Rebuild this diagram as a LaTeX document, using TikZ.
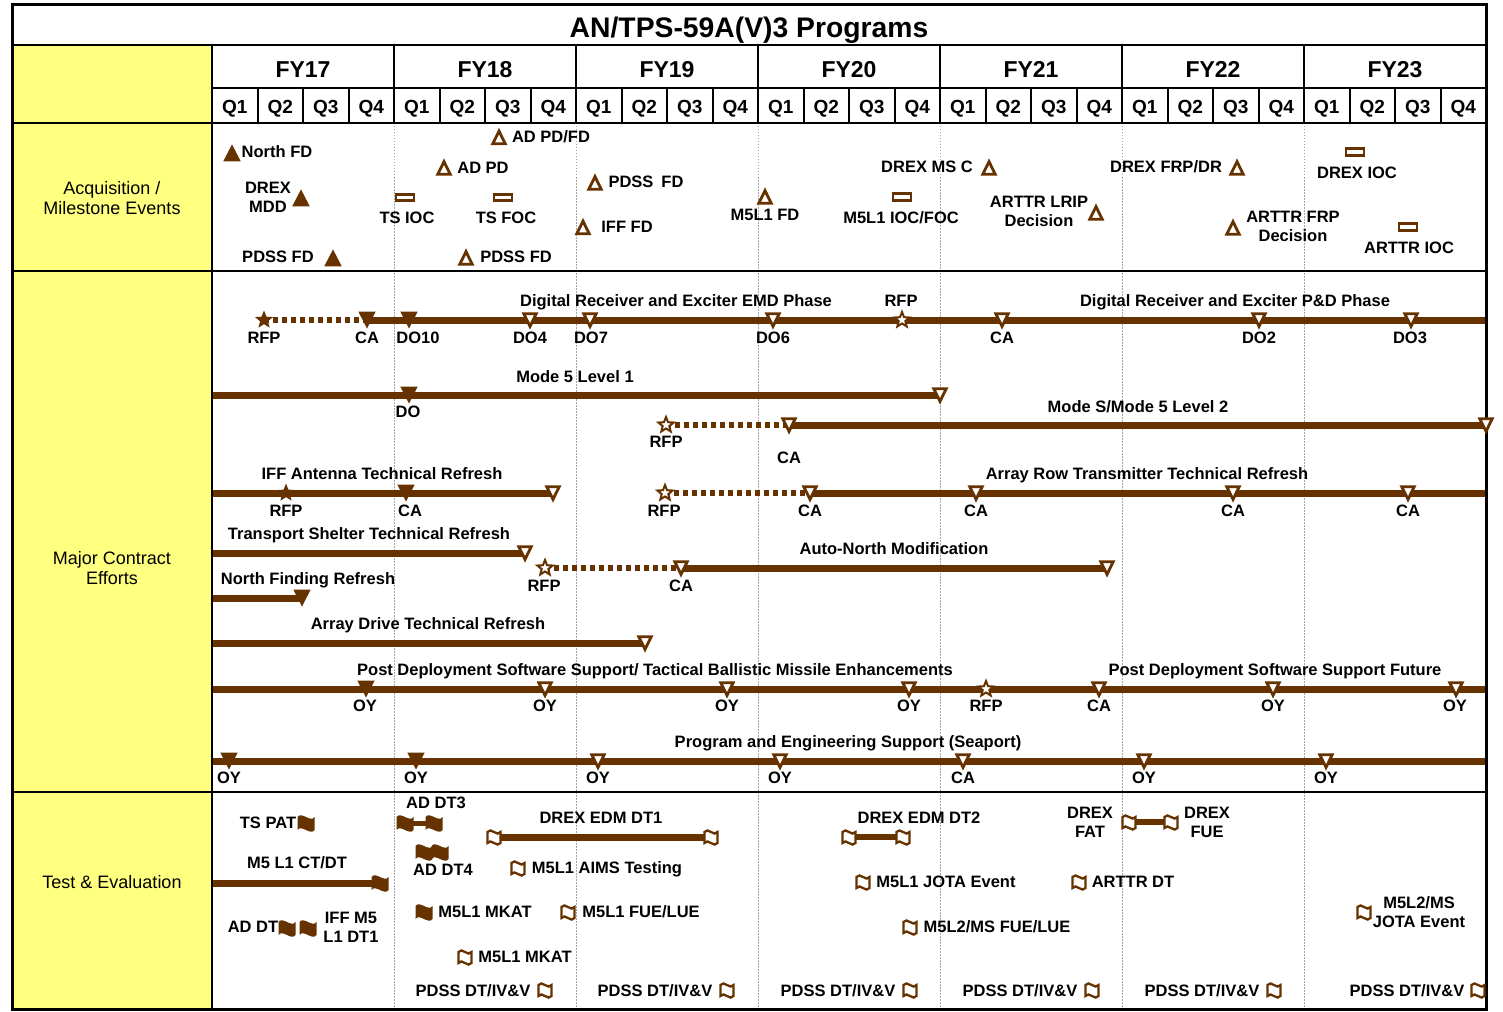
\documentclass[tikz,border=0pt]{standalone}
\usepackage{fontspec}
\setmainfont{Liberation Sans}
\usetikzlibrary{shapes.geometric}
\definecolor{brn}{RGB}{102,51,0}
\definecolor{ylw}{RGB}{255,255,128}
\tikzset{
  lbl/.style={font=\bfseries\fontsize{16.5}{19}\selectfont, inner sep=0pt, text height=11.8pt, text depth=0pt},
  mlbl/.style={font=\bfseries\fontsize{16.5}{19}\selectfont, inner sep=0pt, align=center},
  side/.style={font=\fontsize{18}{20}\selectfont, inner sep=0pt, align=center},
  side1/.style={font=\fontsize{18}{20}\selectfont, inner sep=0pt, text height=12.9pt, text depth=0pt},
  fyl/.style={font=\bfseries\fontsize{23}{25}\selectfont, inner sep=0pt, text height=16.5pt, text depth=0pt},
  ql/.style={font=\bfseries\fontsize{19}{21}\selectfont, inner sep=0pt, text height=13.6pt, text depth=0pt},
  ttl/.style={font=\bfseries\fontsize{28.3}{30}\selectfont, inner sep=0pt, text height=20.2pt, text depth=0pt},
  gridl/.style={draw=gray!70, line width=0.8pt, dash pattern=on 1.5pt off 1.5pt},
  bar/.style={draw=brn, line width=7pt},
  dotbar/.style={draw=brn, line width=6.5pt, dash pattern=on 5pt off 4pt},
  tebar/.style={draw=brn, line width=6pt},
  fstar/.style={star, star points=5, star point ratio=2.3, fill=brn, minimum size=19pt, inner sep=0pt},
  ostar/.style={star, star points=5, star point ratio=2.3, draw=brn, fill=white, line width=2pt, minimum size=16pt, inner sep=0pt},
  ftri/.pic={\fill[brn] (-8.8,8.4) -- (8.8,8.4) -- (0,-8.6) -- cycle;},
  otri/.pic={\draw[brn, line width=2.8pt, fill=white, line join=miter] (-6.2,6.2) -- (6.2,6.2) -- (0,-6.4) -- cycle;},
  fdown/.pic={\fill[brn] (-8.6,-8.3) -- (8.6,-8.3) -- (0,8.5) -- cycle;},
  odown/.pic={\draw[brn, line width=2.8pt, fill=white, line join=miter] (-6.2,-6.2) -- (6.2,-6.2) -- (0,6.4) -- cycle;},
  orect/.pic={\draw[brn, line width=2.8pt, fill=white] (-9,-3.3) rectangle (9,3.3);},
  fflag/.pic={\fill[brn] (-8.5,-6) .. controls (-4.5,-12) and (4.5,0) .. (8.5,-6) -- (8.5,7) .. controls (4.5,13) and (-4.5,1) .. (-8.5,7) -- cycle;},
  oflag/.pic={\draw[brn, line width=2.3pt, fill=white] (-6.5,-5) .. controls (-3.5,-10.5) and (3.5,0.5) .. (6.5,-5) -- (6.5,6) .. controls (3.5,11.5) and (-3.5,0.5) .. (-6.5,6) -- cycle;}
}
\begin{document}
\begin{tikzpicture}[x=1pt,y=-1pt]
\useasboundingbox (0,0) rectangle (1503,1011);
\fill[white] (0,0) rectangle (1503,1011);
\fill[ylw] (12,45) rectangle (212,1009);
% dotted year lines
\foreach \k in {1,...,6} \draw[gridl] ({212+182*\k},123) -- ({212+182*\k},1009);

% ---------------- bar coordinates ----------------
\coordinate (r1s) at (264,320); \coordinate (r1ca) at (367,320); \coordinate (r1e) at (1486,320);
\coordinate (r2s) at (212,395); \coordinate (r2e) at (940,395);
\coordinate (r3s) at (666,425); \coordinate (r3ca) at (789,425); \coordinate (r3e) at (1486,425);
\coordinate (r4s) at (212,493); \coordinate (r4e) at (553,493);
\coordinate (r4bs) at (665,493); \coordinate (r4bca) at (810,493); \coordinate (r4be) at (1486,493);
\coordinate (r5s) at (212,553); \coordinate (r5e) at (525,553);
\coordinate (r6s) at (545,568); \coordinate (r6ca) at (681,568); \coordinate (r6e) at (1107,568);
\coordinate (r7s) at (212,598); \coordinate (r7e) at (302,598);
\coordinate (r8s) at (212,643); \coordinate (r8e) at (645,643);
\coordinate (r9s) at (212,689); \coordinate (r9e) at (1486,689);
\coordinate (r10s) at (212,761); \coordinate (r10e) at (1486,761);
\coordinate (t1a) at (405,823); \coordinate (t1b) at (434,823);
\coordinate (t2a) at (494,837); \coordinate (t2b) at (711,837);
\coordinate (t3a) at (212,883); \coordinate (t3b) at (380,883);
\coordinate (t4a) at (849,837); \coordinate (t4b) at (903,837);
\coordinate (t5a) at (1129,822); \coordinate (t5b) at (1171,822);

\draw[dotbar] (r1s) -- (r1ca); \draw[bar] (r1ca) -- (r1e);
\draw[bar] (r2s) -- (r2e);
\draw[dotbar] (r3s) -- (r3ca); \draw[bar] (r3ca) -- (r3e);
\draw[bar] (r4s) -- (r4e);
\draw[dotbar] (r4bs) -- (r4bca); \draw[bar] (r4bca) -- (r4be);
\draw[bar] (r5s) -- (r5e);
\draw[dotbar] (r6s) -- (r6ca); \draw[bar] (r6ca) -- (r6e);
\draw[bar] (r7s) -- (r7e);
\draw[bar] (r8s) -- (r8e);
\draw[bar] (r9s) -- (r9e);
\draw[bar] (r10s) -- (r10e);
\draw[draw=brn, line width=5pt] (t1a) -- (t1b);
\draw[bar] (t2a) -- (t2b);
\draw[bar] (t3a) -- (t3b);
\draw[tebar] (t4a) -- (t4b);
\draw[tebar] (t5a) -- (t5b);

% ---------------- frame ----------------
\draw[line width=2pt] (212,45) -- (212,1009);
\draw[line width=2pt] (212,88) -- (1486,88);
\foreach \k in {1,...,6} \draw[line width=2pt] ({212+182*\k},45) -- ({212+182*\k},123);
\foreach \i in {1,...,27} \draw[line width=2pt] ({212+45.5*\i},88) -- ({212+45.5*\i},123);
\draw[line width=2.5pt] (12,45) -- (1486,45);
\draw[line width=2.5pt] (12,123) -- (1486,123);
\draw[line width=2.5pt] (12,271) -- (1486,271);
\draw[line width=2.5pt] (12,792) -- (1486,792);
\draw[line width=3pt] (12,5) rectangle (1486,1009);

% ---------------- header ----------------
\node[ttl] (title) at (749,27) {AN/TPS-59A(V)3 Programs};
\foreach \k in {0,...,6} {
  \pgfmathtruncatemacro\yr{17+\k}
  \node[fyl] (fy\k) at ({303+182*\k},69) {FY\yr};
}
\foreach \i in {0,...,27} {
  \pgfmathtruncatemacro\qn{mod(\i,4)+1}
  \node[ql] (q\i) at ({234.75+45.5*\i},107) {Q\qn};
}
\node[side] (sacq) at (112,198) {Acquisition /\\Milestone Events};
\node[side] (smce) at (112,568) {Major Contract\\Efforts};
\node[side1] (ste) at (112,882) {Test \& Evaluation};

% ---------------- acquisition ----------------
\pic at (232,153) {ftri}; \node[lbl] (a1) at (277,152) {North FD};
\node[mlbl] (a2) at (268,197) {DREX\\MDD}; \pic at (301,198) {ftri};
\node[lbl] (a3) at (278,257) {PDSS FD}; \pic at (333,258) {ftri};
\pic at (405,197.5) {orect}; \node[lbl] (a4) at (407,218) {TS IOC};
\pic at (503,197.5) {orect}; \node[lbl] (a5) at (506,218) {TS FOC};
\pic at (444,168) {otri}; \node[lbl] (a6) at (483,168) {AD PD};
\pic at (499,137.5) {otri}; \node[lbl] (a7) at (551,137) {AD PD/FD};
\pic at (466,258) {otri}; \node[lbl] (a8) at (516,257) {PDSS FD};
\pic at (595,183) {otri}; \node[lbl] (a9) at (646,182) {PDSS\hspace{8pt}FD};
\pic at (583,227.5) {otri}; \node[lbl] (a10) at (627,227) {IFF FD};
\pic at (765,197) {otri}; \node[lbl] (a11) at (765,215) {M5L1 FD};
\pic at (902,197) {orect}; \node[lbl] (a12) at (901,218) {M5L1 IOC/FOC};
\node[lbl] (a13) at (927,167) {DREX MS C}; \pic at (989,168) {otri};
\node[mlbl] (a14) at (1039,211.5) {ARTTR LRIP\\Decision}; \pic at (1096,213) {otri};
\node[lbl] (a15) at (1166,167) {DREX FRP/DR}; \pic at (1237,168) {otri};
\pic at (1233,228) {otri}; \node[mlbl] (a16) at (1293,226.5) {ARTTR FRP\\Decision};
\pic at (1355,152) {orect}; \node[lbl] (a17) at (1357,173) {DREX IOC};
\pic at (1408,227) {orect}; \node[lbl] (a18) at (1409,248) {ARTTR IOC};

% ---------------- major contract efforts ----------------
% row 1
\node[fstar] (m1s) at (r1s) {};
\pic at (r1ca) {fdown}; \pic at (409,320) {fdown};
\pic at (530,320) {odown}; \pic at (590,320) {odown}; \pic at (773,320) {odown};
\node[ostar] (m1r) at (902,320) {};
\pic at (1002,320) {odown}; \pic at (1259,320) {odown}; \pic at (1411,320) {odown};
\node[lbl] (m1t1) at (676,301) {Digital Receiver and Exciter EMD Phase};
\node[lbl] (m1t2) at (1235,301) {Digital Receiver and Exciter P\&D Phase};
\node[lbl] (m1rfp2) at (901,301) {RFP};
\node[lbl] at (264,338) {RFP}; \node[lbl] at (367,338) {CA}; \node[lbl] at (418,338) {DO10};
\node[lbl] at (530,338) {DO4}; \node[lbl] at (591,338) {DO7}; \node[lbl] at (773,338) {DO6};
\node[lbl] at (1002,338) {CA}; \node[lbl] at (1259,338) {DO2}; \node[lbl] at (1410,338) {DO3};
% row 2
\pic at (409,395) {fdown}; \pic at (r2e) {odown};
\node[lbl] (m2t) at (575,377) {Mode 5 Level 1};
\node[lbl] (m2d) at (408,412) {DO};
% row 3
\node[ostar] (m3s) at (r3s) {};
\pic at (r3ca) {odown}; \pic at (r3e) {odown};
\node[lbl] (m3t) at (1138,407) {Mode S/Mode 5 Level 2};
\node[lbl] (m3r) at (666,442) {RFP}; \node[lbl] (m3c) at (789,458) {CA};
% row 4
\node[fstar] (m4s) at (286,493) {};
\pic at (406,493) {fdown}; \pic at (r4e) {odown};
\node[lbl] (m4t) at (382,474) {IFF Antenna Technical Refresh};
\node[lbl] at (286,511) {RFP}; \node[lbl] at (410,511) {CA};
\node[ostar] (m4bs) at (r4bs) {};
\pic at (r4bca) {odown}; \pic at (976,493) {odown}; \pic at (1233,493) {odown}; \pic at (1408,493) {odown};
\node[lbl] (m4bt) at (1147,474) {Array Row Transmitter Technical Refresh};
\node[lbl] at (664,511) {RFP}; \node[lbl] at (810,511) {CA}; \node[lbl] at (976,511) {CA};
\node[lbl] at (1233,511) {CA}; \node[lbl] at (1408,511) {CA};
% row 5
\pic at (r5e) {odown};
\node[lbl] (m5t) at (369,534) {Transport Shelter Technical Refresh};
% row 6
\node[ostar] (m6s) at (r6s) {};
\pic at (r6ca) {odown}; \pic at (r6e) {odown};
\node[lbl] (m6t) at (894,549) {Auto-North Modification};
\node[lbl] at (544,586) {RFP}; \node[lbl] at (681,586) {CA};
% row 7
\pic at (r7e) {fdown};
\node[lbl] (m7t) at (308,579) {North Finding Refresh};
% row 8
\pic at (r8e) {odown};
\node[lbl] (m8t) at (428,624) {Array Drive Technical Refresh};
% row 9
\pic at (366,689) {fdown};
\pic at (545,689) {odown}; \pic at (727,689) {odown}; \pic at (909,689) {odown};
\node[ostar] (m9r) at (986,689) {};
\pic at (1099,689) {odown}; \pic at (1273,689) {odown}; \pic at (1456,689) {odown};
\node[lbl] (m9t1) at (655,670) {Post Deployment Software Support/ Tactical Ballistic Missile Enhancements};
\node[lbl] (m9t2) at (1275,670) {Post Deployment Software Support Future};
\node[lbl] at (365,706) {OY}; \node[lbl] at (545,706) {OY}; \node[lbl] at (727,706) {OY};
\node[lbl] at (909,706) {OY}; \node[lbl] at (986,706) {RFP}; \node[lbl] at (1099,706) {CA};
\node[lbl] at (1273,706) {OY}; \node[lbl] at (1455,706) {OY};
% row 10
\pic at (229,761) {fdown}; \pic at (416,761) {fdown};
\pic at (598,761) {odown}; \pic at (780,761) {odown}; \pic at (963,761) {odown};
\pic at (1144,761) {odown}; \pic at (1326,761) {odown};
\node[lbl] (m10t) at (848,742) {Program and Engineering Support (Seaport)};
\node[lbl] at (229,778) {OY}; \node[lbl] at (416,778) {OY}; \node[lbl] at (598,778) {OY};
\node[lbl] at (780,778) {OY}; \node[lbl] at (963,778) {CA}; \node[lbl] at (1144,778) {OY};
\node[lbl] at (1326,778) {OY};

% ---------------- test & evaluation ----------------
\node[lbl] (e1) at (268,823) {TS PAT}; \pic at (306,823) {fflag};
\node[lbl] (e2) at (436,803) {AD DT3}; \pic at (t1a) {fflag}; \pic at (t1b) {fflag};
\node[lbl] (e3) at (601,818) {DREX EDM DT1}; \pic at (t2a) {oflag}; \pic at (t2b) {oflag};
\pic at (424,852) {fflag}; \pic at (440,852) {fflag}; \node[lbl] (e4) at (443,870) {AD DT4};
\node[lbl] (e5) at (297,863) {M5 L1 CT/DT}; \pic at (t3b) {fflag};
\pic at (518,868) {oflag}; \node[lbl] (e6) at (607,868) {M5L1 AIMS Testing};
\node[lbl] (e7) at (253,927) {AD DT}; \pic at (287,928) {fflag}; \pic at (308,928) {fflag};
\node[mlbl] (e8) at (351,927) {IFF M5\\L1 DT1};
\pic at (424,912) {fflag}; \node[lbl] (e9) at (485,912) {M5L1 MKAT};
\pic at (568,912) {oflag}; \node[lbl] (e10) at (641,912) {M5L1 FUE/LUE};
\pic at (465,957) {oflag}; \node[lbl] (e11) at (525,957) {M5L1 MKAT};
\node[lbl] (p1) at (473,991) {PDSS DT/IV\&V}; \pic at (545,990) {oflag};
\node[lbl] (p2) at (655,991) {PDSS DT/IV\&V}; \pic at (727,990) {oflag};
\node[lbl] (p3) at (838,991) {PDSS DT/IV\&V}; \pic at (910,990) {oflag};
\node[lbl] (p4) at (1020,991) {PDSS DT/IV\&V}; \pic at (1092,990) {oflag};
\node[lbl] (p5) at (1202,991) {PDSS DT/IV\&V}; \pic at (1274,990) {oflag};
\node[lbl] (p6) at (1407,991) {PDSS DT/IV\&V}; \pic at (1478,990) {oflag};
\node[lbl] (e12) at (919,818) {DREX EDM DT2}; \pic at (t4a) {oflag}; \pic at (t4b) {oflag};
\node[mlbl] (e13) at (1090,822) {DREX\\FAT}; \pic at (t5a) {oflag}; \pic at (t5b) {oflag};
\node[mlbl] (e14) at (1207,822) {DREX\\FUE};
\pic at (863,882) {oflag}; \node[lbl] (e15) at (946,882) {M5L1 JOTA Event};
\pic at (1079,882) {oflag}; \node[lbl] (e16) at (1133,882) {ARTTR DT};
\pic at (910,927) {oflag}; \node[lbl] (e17) at (997,927) {M5L2/MS FUE/LUE};
\pic at (1364,912) {oflag}; \node[mlbl] (e18) at (1419,912) {M5L2/MS\\JOTA Event};
\end{tikzpicture}
\end{document}
